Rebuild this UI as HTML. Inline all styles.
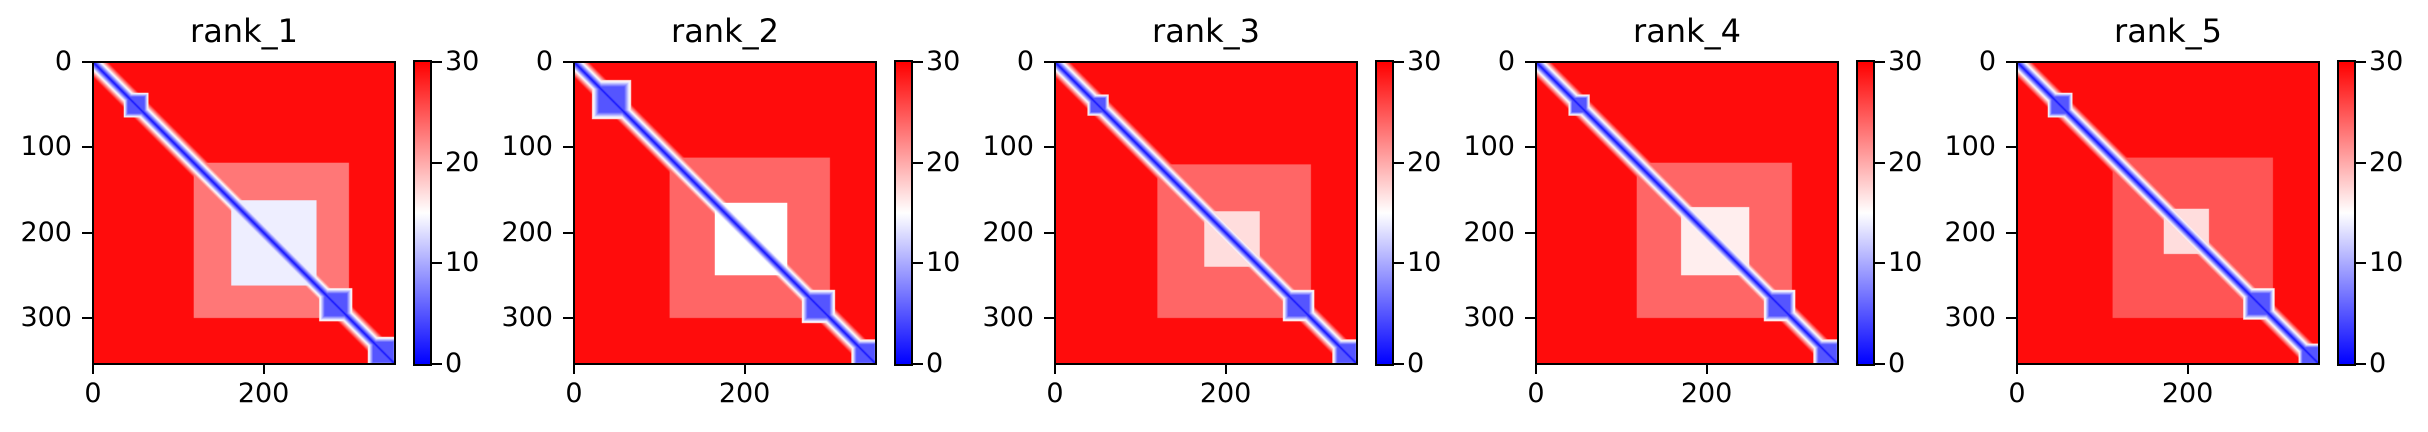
<!DOCTYPE html>
<html><head><meta charset="utf-8">
<style>
body{margin:0;background:#fff;width:2428px;height:432px;overflow:hidden;position:relative;font-family:"DejaVu Sans","Liberation Sans",sans-serif}
.panel{position:absolute;top:0;width:481px;height:432px}
canvas.hm{position:absolute;top:62px;left:0;width:302px;height:302px}
.frame{position:absolute;top:61px;left:-1px;width:300px;height:300px;border:2px solid #000}
.title{position:absolute;top:12px;left:0;width:302px;text-align:center;font-size:32px;color:#000}
.ytick{position:absolute;left:-11px;width:10px;height:2px;background:#000}
.ylab{position:absolute;left:-101px;width:80px;font-size:27px;line-height:27px;text-align:right;white-space:nowrap}
.xtick{position:absolute;top:364px;width:2px;height:10px;background:#000}
.xlab{position:absolute;top:378px;font-size:27px;width:80px;text-align:center;margin-left:-40px}
.cbar{position:absolute;left:320px;top:60px;width:15px;height:302px;background:linear-gradient(to top,#0000ff,#ffffff 50%,#ff0000);border:2px solid #000}
.ctick{position:absolute;left:339px;width:10px;height:2px;background:#000}
.clab{position:absolute;left:352px;font-size:27px;line-height:27px}
</style></head><body>
<div id="root"></div>
<script>
// data arrays
const titles = ["rank_1","rank_2","rank_3","rank_4","rank_5"];
const nRes = 354;
const domains = [
  [[38,62],[268,300],[325,354]],
  [[25,62],[270,302],[328,354]],
  [[40,60],[270,300],[328,354]],
  [[40,60],[270,300],[328,354]],
  [[38,62],[268,298],[332,354]]
];
const paleRegions = [[118,300],[112,300],[120,300],[118,300],[112,300]];
const paleValues = [23,24,24,24,25];
const clusterRegions = [[162,262],[165,250],[175,240],[170,250],[172,225]];
const clusterValues = [14,15,17,16,17];
const domainValue = 5;
const baseValue = 29.3;
const yTicks = [0,100,200,300];
const xTicks = [0,200];
const cTicks = [0,10,20,30];
const vMax = 30;

const root = document.getElementById('root');
const panelLeft0 = 93, panelStep = 481, side = 302;
function sx(v){return v/nRes*side;}
function cy(v){return 302 - v/vMax*302;}
function color(v){
  const t=Math.max(0,Math.min(1,v/vMax));
  if(t<0.5){const k=t/0.5;return [Math.round(255*k),Math.round(255*k),255];}
  const k=(t-0.5)/0.5;return [255,Math.round(255*(1-k)),Math.round(255*(1-k))];
}
function inR(i,r){return i>=r[0]&&i<r[1];}
titles.forEach((t,p)=>{
  const panel=document.createElement('div');
  panel.className='panel';
  panel.style.left=(panelLeft0+panelStep*p)+'px';
  
  
  root.appendChild(panel);
  const ti=document.createElement('div');ti.className='title';ti.textContent=t;
  
  
  panel.appendChild(ti);
  const cv=document.createElement('canvas');cv.className='hm';cv.width=nRes;cv.height=nRes;
  
  
  panel.appendChild(cv);
  const ctx=cv.getContext('2d');const img=ctx.createImageData(nRes,nRes);
  for(let i=0;i<nRes;i++)for(let j=0;j<nRes;j++){
    let v=baseValue;
    if(inR(i,paleRegions[p])&&inR(j,paleRegions[p]))v=paleValues[p];
    if(inR(i,clusterRegions[p])&&inR(j,clusterRegions[p]))v=clusterValues[p];
    const d=Math.abs(i-j);
    domains[p].forEach(dm=>{
      const m=(dm[0]+dm[1])/2, h=(dm[1]-dm[0])/2;
      const r=Math.max(Math.abs(i-m),Math.abs(j-m))/h;
      if(r<1.25) v=Math.min(v,domainValue+Math.max(0,r-0.8)*30);
    });
    v=Math.min(v,1+d*1.6);
    const c=color(v);const k=(i*nRes+j)*4;
    img.data[k]=c[0];img.data[k+1]=c[1];img.data[k+2]=c[2];img.data[k+3]=255;
  }
  ctx.putImageData(img,0,0);
  const fr=document.createElement('div');fr.className='frame';
  
  
  panel.appendChild(fr);
  yTicks.forEach(v=>{
    const y=62+sx(v);
    const tk=document.createElement('div');tk.className='ytick';tk.style.top=(y-1)+'px';
    
    
    panel.appendChild(tk);
    const lb=document.createElement('div');lb.className='ylab';lb.style.top=(y-14)+'px';lb.textContent=v;
    
    
    panel.appendChild(lb);
  });
  xTicks.forEach(v=>{
    const x=sx(v);
    const tk=document.createElement('div');tk.className='xtick';tk.style.left=(x-1)+'px';
    
    
    panel.appendChild(tk);
    const lb=document.createElement('div');lb.className='xlab';lb.style.left=x+'px';lb.textContent=v;
    
    
    panel.appendChild(lb);
  });
  const cb=document.createElement('div');cb.className='cbar';
  
  
  panel.appendChild(cb);
  cTicks.forEach(v=>{
    const y=62+cy(v);
    const tk=document.createElement('div');tk.className='ctick';tk.style.top=(y-1)+'px';
    
    
    panel.appendChild(tk);
    const lb=document.createElement('div');lb.className='clab';lb.style.top=(y-14)+'px';lb.textContent=v;
    
    
    panel.appendChild(lb);
  });
});
</script>
</body></html>
